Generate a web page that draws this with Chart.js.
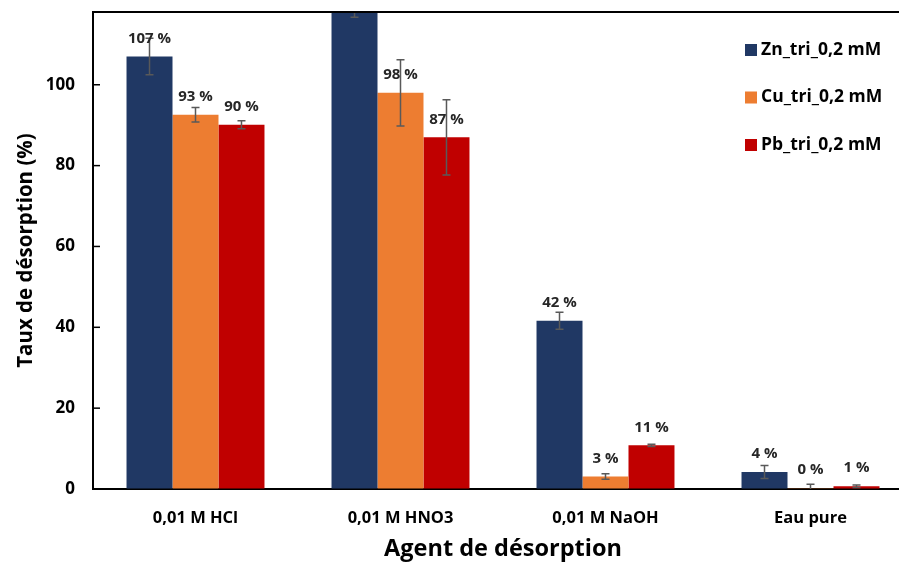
<!DOCTYPE html>
<html>
<head>
<meta charset="utf-8">
<script src="https://cdn.jsdelivr.net/npm/chart.js@4/dist/chart.umd.min.js"></script>
<style>
  html, body { margin: 0; padding: 0; background: #fff; overflow: hidden; }
  #wrap { width: 920px; height: 563px; }
</style>
</head>
<body>
<div id="wrap"><canvas id="desorption_Chart" width="920" height="563"></canvas></div>
<script>
// categories and series
const agents = ['0,01 M HCl', '0,01 M HNO3', '0,01 M NaOH', 'Eau pure']
const series_names = ['Zn_tri_0,2 mM', 'Cu_tri_0,2 mM', 'Pb_tri_0,2 mM']
const series_colors = ['#203864', '#ED7D31', '#C00000']

const zn_values = [107, 121, 41.6, 4.2]
const cu_values = [92.6, 98, 3.1, 0.2]
const pb_values = [90.1, 87, 10.8, 0.7]

const zn_errors = [4.5, 4.3, 2.1, 1.6]
const cu_errors = [1.8, 8.2, 0.7, 1.0]
const pb_errors = [1.0, 9.3, 0.3, 0.3]

const zn_labels = ['107 %', '121 %', '42 %', '4 %']
const cu_labels = ['93 %', '98 %', '3 %', '0 %']
const pb_labels = ['90 %', '87 %', '11 %', '1 %']

const y_max = 118
const font_family = "'Open Sans', 'DejaVu Sans', sans-serif"

const all_values = [zn_values, cu_values, pb_values]
const all_errors = [zn_errors, cu_errors, pb_errors]
const all_labels = [zn_labels, cu_labels, pb_labels]

// error bars, value labels, legend, inner tick marks and the top frame line
const extras_plugin = {
    id: 'extras',
    afterDatasetsDraw(chart)
    {
        const c = chart.ctx
        const area = chart.chartArea
        const y_scale = chart.scales.y

        c.save()
        c.beginPath()
        c.rect(area.left, area.top, area.right - area.left, area.bottom - area.top)
        c.clip()

        chart.data.datasets.forEach((ds, d) => {
            const meta = chart.getDatasetMeta(d)
            meta.data.forEach((bar, i) => {
                const v = all_values[d][i]
                const e = all_errors[d][i]
                const y_hi = y_scale.getPixelForValue(v + e)
                const y_lo = y_scale.getPixelForValue(Math.max(v - e, 0))
                c.strokeStyle = '#595959'
                c.lineWidth = 1.5
                c.beginPath()
                c.moveTo(bar.x, y_hi); c.lineTo(bar.x, y_lo)
                c.moveTo(bar.x - 4, y_hi); c.lineTo(bar.x + 4, y_hi)
                if (v - e > 0) { c.moveTo(bar.x - 4, y_lo); c.lineTo(bar.x + 4, y_lo) }
                c.stroke()

                c.fillStyle = '#262626'
                c.font = `bold 15px ${font_family}`
                c.textAlign = 'center'
                c.textBaseline = 'middle'
                c.fillText(all_labels[d][i], bar.x, bar.y - 18)
            })
        })

        // short tick marks pointing into the plot
        c.strokeStyle = '#000'
        c.lineWidth = 1.5
        y_scale.ticks.forEach(t => {
            const ty = y_scale.getPixelForValue(t.value)
            c.beginPath()
            c.moveTo(area.left, ty); c.lineTo(area.left + 7, ty)
            c.stroke()
        })
        c.restore()

        // top frame line
        c.save()
        c.strokeStyle = '#000'
        c.lineWidth = 2
        c.beginPath()
        c.moveTo(area.left - 1, area.top)
        c.lineTo(chart.width, area.top)
        c.stroke()

        // legend
        const lx = area.left + 652
        series_names.forEach((name, d) => {
            const ly = area.top + 38 + d * 47.5
            c.fillStyle = series_colors[d]
            c.fillRect(lx, ly - 6, 12, 12)
            c.fillStyle = '#000'
            c.font = `bold 17.5px ${font_family}`
            c.textAlign = 'left'
            c.textBaseline = 'middle'
            c.fillText(name, lx + 16, ly)
        })
        c.restore()
    }
}

const ctx = document.getElementById('desorption_Chart').getContext('2d')
const desorption_chart = new Chart(ctx,
    {
        type: 'bar',
        data: {
            labels: agents,
            datasets: series_names.map((name, d) => ({
                label: name,
                data: all_values[d],
                backgroundColor: series_colors[d],
                categoryPercentage: 0.673,
                barPercentage: 1.0
            }))
        },
        options: {
            responsive: false,
            animation: false,
            layout: { padding: { top: 12, right: 7, left: 0, bottom: 0 } },
            plugins: {
                legend: { display: false },
                tooltip: { enabled: false }
            },
            scales: {
                x: {
                    afterFit: scale => {
                        scale.height = 74
                        scale.paddingTop = 0
                        scale.paddingBottom = 0
                    },
                    grid: { display: false },
                    border: { color: '#000', width: 2 },
                    ticks: {
                        color: '#000',
                        padding: 11,
                        font: { family: font_family, size: 16.5, weight: 'bold' }
                    },
                    title: {
                        display: true,
                        text: 'Agent de désorption',
                        color: '#000',
                        padding: { top: 0, bottom: 0 },
                        font: { family: font_family, size: 23.5, weight: 'bold' }
                    }
                },
                y: {
                    afterFit: scale => {
                        scale.width = 93
                        scale.paddingTop = 0
                        scale.paddingBottom = 0
                    },
                    min: 0,
                    max: y_max,
                    grid: { drawOnChartArea: false, drawTicks: false },
                    border: { color: '#000', width: 2 },
                    ticks: {
                        stepSize: 20,
                        includeBounds: false,
                        color: '#000',
                        padding: 18,
                        font: { family: font_family, size: 17, weight: 'bold' }
                    },
                    title: {
                        display: true,
                        text: 'Taux de désorption (%)',
                        color: '#000',
                        padding: { top: 14, bottom: 0 },
                        font: { family: font_family, size: 20.5, weight: 'bold' }
                    }
                }
            }
        },
        plugins: [extras_plugin]
    })
</script>
</body>
</html>
